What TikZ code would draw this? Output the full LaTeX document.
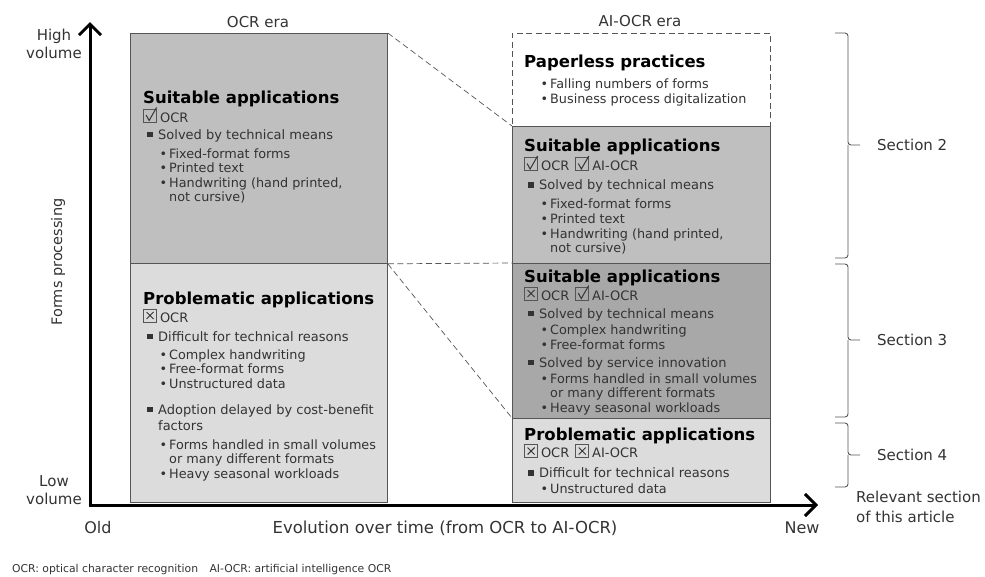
\documentclass[tikz,border=0pt]{standalone}
\usepackage{fontspec}
\setmainfont{DejaVu Sans}
\usetikzlibrary{arrows.meta}
\definecolor{txtgray}{HTML}{333333}
\definecolor{edgegray}{HTML}{555555}
\definecolor{midfill}{HTML}{BFBFBF}
\definecolor{lightfill}{HTML}{DCDCDC}
\definecolor{darkfill}{HTML}{A8A8A8}
\newcommand\bodyfont{\fontsize{12.8}{14.5}\selectfont\lineskiplimit=-30pt\relax}
\newcommand\ttl[1]{{\fontsize{16.5}{14.5}\selectfont\bfseries\color{black}#1}}
\newcommand\mln[1]{{\fontsize{13}{14.5}\selectfont #1}}
\newcommand\cbyes{\tikz[x=1pt,y=1pt,baseline=0pt]{\draw[line width=0.8pt,draw=edgegray] (0,0) rectangle (13,13); \draw[line width=1pt,draw=txtgray] (2.5,7) -- (5.5,1.5) -- (13,14.5);}\hspace{3pt}}
\newcommand\cbno{\tikz[x=1pt,y=1pt,baseline=0pt]{\draw[line width=0.8pt,draw=edgegray] (0,0) rectangle (13,13); \draw[line width=0.9pt,draw=txtgray] (3,3) -- (10,10) (3,10) -- (10,3);}\hspace{3pt}}
\newcommand\sqi{\makebox[15pt][l]{\hspace{4pt}\rule[2pt]{5.5pt}{5.5pt}}}
\newcommand\dti{\hspace{16.5pt}\makebox[9.5pt][l]{•}}
\newcommand\cnt{\hspace{26pt}}
\begin{document}
\begin{tikzpicture}[x=1pt,y=-1pt,
  box/.style={draw=edgegray, line width=0.8pt, anchor=north west, inner sep=0, minimum width=#1},
  content/.style={anchor=base west, inner sep=0, align=left, font=\bodyfont, text=txtgray},
  lbl/.style={inner sep=0, text=txtgray, font=\fontsize{15}{18.5}\selectfont},
  guide/.style={draw=edgegray, line width=0.7pt, dash pattern=on 6pt off 3.5pt},
  brace/.style={draw=edgegray, line width=0.9pt, rounded corners=3pt},
  axis/.style={line width=3pt, -{Straight Barb[length=11pt,width=22pt,line width=3pt]}}]
\useasboundingbox (0,0) rectangle (985,576);
% boxes
\node[box=257pt, minimum height=230pt, fill=midfill] (lt) at (130,33) {};
\node[box=257pt, minimum height=239pt, fill=lightfill] (lb) at (130,263) {};
\node[box=258pt, minimum height=93pt, dash pattern=on 6pt off 3.5pt] (rp) at (512,33) {};
\node[box=258pt, minimum height=137pt, fill=midfill] (rs) at (512,126) {};
\node[box=258pt, minimum height=155pt, fill=darkfill] (rd) at (512,263) {};
\node[box=258pt, minimum height=84pt, fill=lightfill] (rb) at (512,418) {};
% guides
\draw[guide] (lt.north east) -- (rs.north west);
\draw[guide] (lt.south east) -- (rd.north west);
\draw[guide] (lt.south east) -- (rb.north west);
% contents (anchored at the baseline of the last line)
\node[content] (ct1) at (143,201.5) {\ttl{Suitable applications}\\[4pt]
\cbyes\mln{OCR}\\[2.5pt]
\sqi\mln{Solved by technical means}\\[4.5pt]
\dti Fixed-format forms\\
\dti Printed text\\
\dti Handwriting (hand printed,\\
\cnt not cursive)};
\node[content] (ct2) at (143,478.5) {\ttl{Problematic applications}\\[3.5pt]
\cbno\mln{OCR}\\[4.5pt]
\sqi\mln{Difficult for technical reasons}\\[3.5pt]
\dti Complex handwriting\\
\dti Free-format forms\\
\dti Unstructured data\\[11.5pt]
\sqi\mln{Adoption delayed by cost-benefit}\\[1.5pt]
\hspace{15pt}\mln{factors}\\[4.5pt]
\dti Forms handled in small volumes\\
\cnt or many different formats\\[0.5pt]
\dti Heavy seasonal workloads};
\node[content] (ct3) at (524,103.5) {\ttl{Paperless practices}\\[6.5pt]
\dti Falling numbers of forms\\[0.5pt]
\dti Business process digitalization};
\node[content] (ct4) at (524,252.5) {\ttl{Suitable applications}\\[4.5pt]
\cbyes\mln{OCR}\hspace{6pt}\cbyes\mln{AI-OCR}\\[4.5pt]
\sqi\mln{Solved by technical means}\\[4.5pt]
\dti Fixed-format forms\\[0.5pt]
\dti Printed text\\
\dti Handwriting (hand printed,\\
\cnt not cursive)};
\node[content] (ct5) at (524,412.5) {\ttl{Suitable applications}\\[3.5pt]
\cbno\mln{OCR}\hspace{6pt}\cbyes\mln{AI-OCR}\\[3.5pt]
\sqi\mln{Solved by technical means}\\[1.5pt]
\dti Complex handwriting\\[0.5pt]
\dti Free-format forms\\[3.5pt]
\sqi\mln{Solved by service innovation}\\[1.5pt]
\dti Forms handled in small volumes\\
\cnt or many different formats\\[0.5pt]
\dti Heavy seasonal workloads};
\node[content] (ct6) at (524,493.5) {\ttl{Problematic applications}\\[2.5pt]
\cbno\mln{OCR}\hspace{6pt}\cbno\mln{AI-OCR}\\[5.5pt]
\sqi\mln{Difficult for technical reasons}\\[1.5pt]
\dti Unstructured data};
% axes
\coordinate (orig) at (90,505);
\coordinate (ytip) at (90,22);
\coordinate (xtip) at (818,505);
\draw[axis] ([yshift=-1.5pt]orig) -- (ytip);
\draw[axis] ([xshift=-1.5pt]orig) -- (xtip);
% axis labels
\node[lbl, align=center] (hv) at (54,44) {High\\volume};
\node[lbl, align=center] (lv) at (54,490) {Low\\volume};
\node[lbl, rotate=90, font=\fontsize{14.5}{16}\selectfont] (fp) at (58,262) {Forms processing};
\node[lbl, font=\fontsize{16}{19}\selectfont] (old) at (98,528) {Old};
\node[lbl, font=\fontsize{16.5}{19}\selectfont] (evo) at (445,528) {Evolution over time (from OCR to AI-OCR)};
\node[lbl, font=\fontsize{16}{19}\selectfont] (new) at (802,528) {New};
\node[lbl] (ocrera) at (258,22) {OCR era};
\node[lbl] (aiera) at (640,21) {AI-OCR era};
% braces
\draw[brace] (835,33) -| (848,145) -- (860,145);
\draw[brace] (835,258) -| (848,145);
\draw[brace] (835,264) -| (848,340) -- (860,340);
\draw[brace] (835,417) -| (848,340);
\draw[brace] (835,423) -| (848,455) -- (860,455);
\draw[brace] (835,487) -| (848,455);
\node[lbl, anchor=west] (s2) at (877,145) {Section 2};
\node[lbl, anchor=west] (s3) at (877,340) {Section 3};
\node[lbl, anchor=west] (s4) at (877,455) {Section 4};
\node[lbl, anchor=west, align=left, font=\fontsize{15}{20}\selectfont] (rel) at (856,507) {Relevant section\\of this article};
\node[lbl, anchor=west, font=\fontsize{10.8}{12}\selectfont] (foot) at (12,570) {OCR: optical character recognition\hspace{8pt} AI-OCR: artificial intelligence OCR};
\end{tikzpicture}
\end{document}
